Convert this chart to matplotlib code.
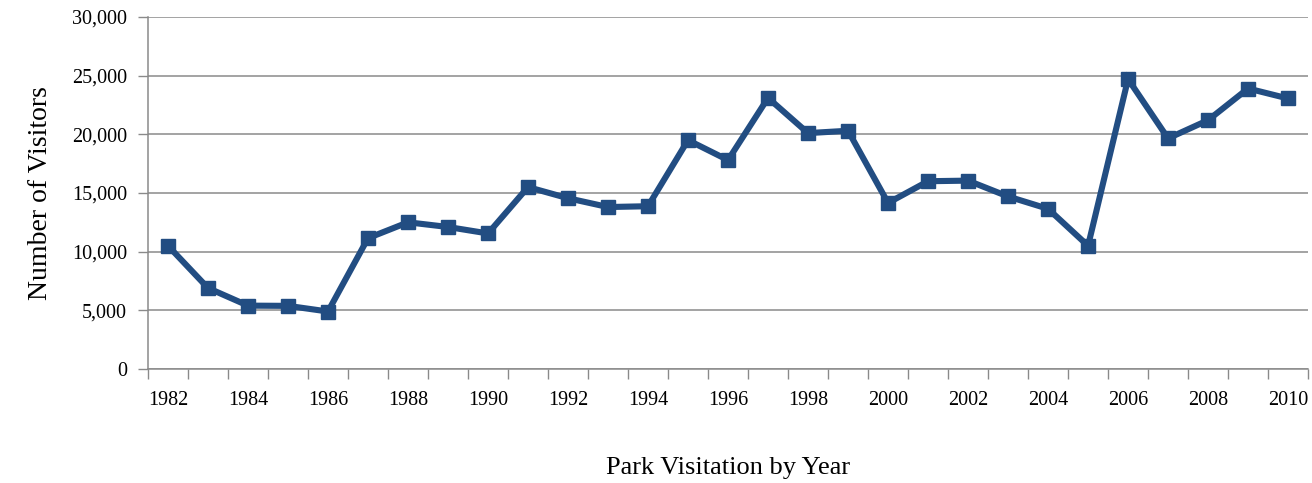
import numpy as np
import matplotlib.pyplot as plt

years = list(range(1982, 2011))
visitors = [10500, 6900, 5400, 5380, 4900, 11150, 12500, 12100, 11550, 15500,
            14550, 13800, 13870, 19500, 17800, 23100, 20100, 20300, 14150, 16000,
            16050, 14700, 13650, 10500, 24700, 19650, 21200, 23900, 23050]

line_color = '#224d82'
grid_color = '#8a8a8a'

plt.rcParams['font.family'] = ['Liberation Serif', 'DejaVu Serif']

fig = plt.figure(figsize=(13.12, 4.83), dpi=100)
ax = fig.add_axes([0.1128, 0.236, 0.8842, 0.729])

x = np.arange(len(years))
ax.plot(x, visitors, color=line_color, linewidth=4.4, marker='s',
        markersize=10, markeredgecolor=line_color, solid_joinstyle='miter')

ax.set_ylim(0, 30000)
ax.set_xlim(-0.5, len(years) - 0.5)
ax.set_yticks(range(0, 30001, 5000))
ax.set_yticklabels(['{:,}'.format(v) for v in range(0, 30001, 5000)])
ax.yaxis.grid(True, color=grid_color, linewidth=1.1)
ax.set_axisbelow(True)

# ticks at category boundaries, labels on every other category
ax.set_xticks(np.arange(-0.5, len(years), 1.0))
ax.set_xticklabels([])
ax.set_xticks(x[::2], minor=True)
ax.set_xticklabels([str(y) for y in years[::2]], minor=True)
ax.tick_params(axis='x', which='major', length=7, width=1, color=grid_color)
ax.tick_params(axis='x', which='minor', length=0, pad=16, labelsize=14.5)
ax.tick_params(axis='y', length=7, width=1, color=grid_color, labelsize=14.5, pad=8)

for s in ['top', 'right']:
    ax.spines[s].set_visible(False)
for s in ['left', 'bottom']:
    ax.spines[s].set_color(grid_color)
    ax.spines[s].set_linewidth(1.1)

ax.set_ylabel('Number of Visitors', fontsize=20, labelpad=14)
ax.set_xlabel('Park Visitation by Year', fontsize=19, labelpad=34)

fig.savefig('out.png', dpi=100)
